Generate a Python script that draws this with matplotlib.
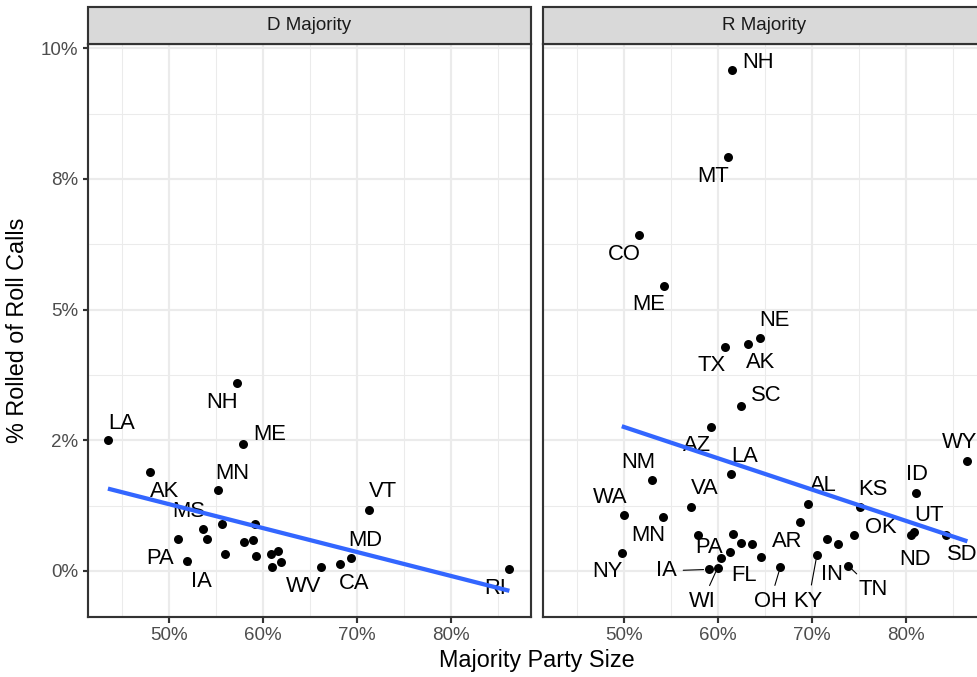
import numpy as np
import matplotlib
matplotlib.use("Agg")
import matplotlib.pyplot as plt
from matplotlib.patches import Rectangle

plt.rcParams['font.family'] = ['Liberation Sans', 'DejaVu Sans']

# ---------------- data ----------------
panels = ["D Majority", "R Majority"]

d_state = ["LA", "AK", "NH", "ME", "MN", "VT", "PA", "IA", "MS", "", "", "", "", "", "", "",
           "", "", "", "", "WV", "CA", "MD", "RI"]
d_size = [43.5, 48.0, 57.2, 57.9, 55.2, 71.3, 51.0, 51.9, 53.6, 54.0, 55.6, 55.9, 58.0, 58.9,
          59.1, 59.3, 60.8, 61.6, 61.0, 61.9, 66.2, 68.2, 69.4, 86.2]
d_pct = [2.50, 1.89, 3.59, 2.42, 1.54, 1.17, 0.62, 0.19, 0.80, 0.62, 0.90, 0.33, 0.55, 0.60,
         0.89, 0.29, 0.32, 0.38, 0.08, 0.17, 0.07, 0.13, 0.25, 0.04]

r_state = ["NH", "MT", "CO", "ME", "NE", "AK", "TX", "SC", "AZ", "LA", "NM", "WA", "VA", "MN",
           "NY", "PA", "IA", "WI", "", "FL", "", "", "", "AR", "OH", "", "AL", "KY", "", "IN",
           "TN", "OK", "KS", "ND", "UT", "ID", "SD", "WY"]
r_size = [61.46, 61.11, 51.59, 54.28, 64.51, 63.16, 60.69, 62.42, 59.27, 61.39, 53.00, 49.97,
          57.08, 54.11, 49.76, 57.86, 58.99, 59.95, 60.27, 61.22, 61.60, 62.42, 63.59, 64.58,
          66.63, 68.76, 69.61, 70.52, 71.58, 72.72, 73.85, 74.49, 75.09, 80.57, 80.86, 81.07,
          84.29, 86.52]
r_pct = [9.585, 7.91, 6.42, 5.46, 4.46, 4.35, 4.29, 3.16, 2.75, 1.85, 1.75, 1.07, 1.22, 1.04,
         0.35, 0.69, 0.03, 0.06, 0.24, 0.36, 0.70, 0.53, 0.51, 0.27, 0.08, 0.93, 1.28, 0.31,
         0.61, 0.51, 0.10, 0.68, 1.22, 0.69, 0.74, 1.50, 0.68, 2.10]

x_breaks = [50, 60, 70, 80]
x_labels = ["50%", "60%", "70%", "80%"]
y_breaks = [0, 2.5, 5, 7.5, 10]
y_labels = ["0%", "2%", "5%", "8%", "10%"]

# ---------------- label placement (pixel offsets, image coords: +y = down) ----------------
d_offsets = {
    "LA": (13.4, -17), "AK": (14.3, 19.7), "NH": (-15, 18.7), "ME": (26.3, -10.3),
    "MN": (14, -17.4), "VT": (14, -18), "MS": (-14, -17.6), "PA": (-18, 19.6),
    "IA": (14.7, 20.4), "WV": (-17.7, 19.4), "CA": (14, 19.7), "MD": (14, -17.7),
    "RI": (-14.3, 19.3),
}
r_offsets = {
    "NH": (26, -7.4), "MT": (-15, 19.4), "CO": (-14.7, 19), "ME": (-15.6, 18.7),
    "NE": (14, -17), "AK": (13.3, 19.4), "TX": (-13.4, 19), "SC": (25.3, -10),
    "AZ": (-14.3, 18.4), "LA": (14, -17.3), "NM": (-14.3, -16.6), "WA": (-14, -17.7),
    "VA": (14, -18.3), "MN": (-14.7, 19), "NY": (-14.7, 19), "PA": (10.7, 12.3),
    "IA": (-41.7, 1.4), "WI": (-15.4, 34), "FL": (14, 23.7), "AR": (25.7, -15),
    "OH": (-10.4, 35), "AL": (15, -19), "KY": (-8.6, 46.7), "IN": (-6, 29.7),
    "TN": (25, 24), "OK": (26.6, -8.4), "KS": (13.4, -18), "ND": (3.3, 24.3),
    "UT": (14.6, -17.3), "ID": (0.3, -18), "SD": (15.7, 19.3), "WY": (-7.7, -18.6),
}
segment_labels = {"IA", "WI", "OH", "KY", "TN"}

# ---------------- figure ----------------
W, H, DPI = 977, 677, 144
fig = plt.figure(figsize=(W / DPI, H / DPI), dpi=DPI)

def fx(px):
    return px / W

def fy(py):
    return 1 - py / H

panel_top, panel_bot = 44, 617
strip_top = 7
lefts = [88, 543]
pw = 443

XLIM = (41.38, 88.5)
YLIM = (-0.88, 10.08)
GRID = "#EBEBEB"
DARK = "#333333"
LW = 1.07
TICK_FS = 9.4
LABEL_FS = 11
TITLE_FS = 11.7

data = [(d_state, d_size, d_pct, d_offsets), (r_state, r_size, r_pct, r_offsets)]

for i, (name, (states, xs, ys, offs)) in enumerate(zip(panels, data)):
    ax = fig.add_axes([fx(lefts[i]), fy(panel_bot), pw / W, (panel_bot - panel_top) / H])
    ax.set_xlim(*XLIM)
    ax.set_ylim(*YLIM)
    # grid
    for v in [45, 55, 65, 75, 85]:
        ax.axvline(v, color=GRID, lw=0.53, zorder=0)
    for v in [1.25, 3.75, 6.25, 8.75]:
        ax.axhline(v, color=GRID, lw=0.53, zorder=0)
    for v in x_breaks:
        ax.axvline(v, color=GRID, lw=LW, zorder=0)
    for v in y_breaks:
        ax.axhline(v, color=GRID, lw=LW, zorder=0)

    ax.set_xticks(x_breaks)
    ax.set_xticklabels(x_labels)
    ax.set_yticks(y_breaks)
    if i == 0:
        ax.set_yticklabels(y_labels)
    else:
        ax.tick_params(axis="y", left=False, labelleft=False)
    ax.tick_params(axis="both", length=2.75, width=LW, color=DARK, labelsize=TICK_FS,
                   labelcolor="#4D4D4D", pad=2.2)
    for s in ax.spines.values():
        s.set_color(DARK)
        s.set_linewidth(LW)
        s.set_zorder(5)

    xa = np.array(xs)
    ya = np.array(ys)
    ax.scatter(xa, ya, s=4.5 ** 2, color="black", zorder=3, linewidths=0)

    for st, x, y in zip(states, xs, ys):
        if not st:
            continue
        dx, dy = offs[st]
        if st in segment_labels:
            ax.annotate(st, (x, y), xytext=(dx, -dy), textcoords="offset pixels",
                        ha="center", va="center", fontsize=LABEL_FS, color="black", zorder=4,
                        arrowprops=dict(arrowstyle="-", color="black", lw=0.55,
                                        shrinkA=1, shrinkB=2.5))
        else:
            ax.annotate(st, (x, y), xytext=(dx, -dy), textcoords="offset pixels",
                        ha="center", va="center", fontsize=LABEL_FS, color="black", zorder=4)

    # linear fit
    slope, intercept = np.polyfit(xa, ya, 1)
    xx = np.array([xa.min(), xa.max()])
    ax.plot(xx, intercept + slope * xx, color="#3366FF", lw=2.13, zorder=6,
            solid_capstyle="butt")

    # strip
    sax = fig.add_axes([fx(lefts[i]), fy(panel_top), pw / W, (panel_top - strip_top) / H])
    sax.set_xlim(0, 1)
    sax.set_ylim(0, 1)
    sax.axis("off")
    sax.add_patch(Rectangle((0, 0), 1, 1, transform=sax.transAxes, facecolor="#D9D9D9",
                            edgecolor=DARK, lw=LW, clip_on=False))
    sax.text(0.5, 0.5, name, ha="center", va="center", fontsize=TICK_FS, color="#1A1A1A")

fig.text(fx((88 + 543 + pw) / 2), fy(661), "Majority Party Size", ha="center", va="center",
         fontsize=TITLE_FS, color="black")
fig.text(fx(18), fy((panel_top + panel_bot) / 2), "% Rolled of Roll Calls", ha="center",
         va="center", rotation=90, fontsize=TITLE_FS, color="black")

fig.savefig("out.png", dpi=DPI, facecolor="white")
